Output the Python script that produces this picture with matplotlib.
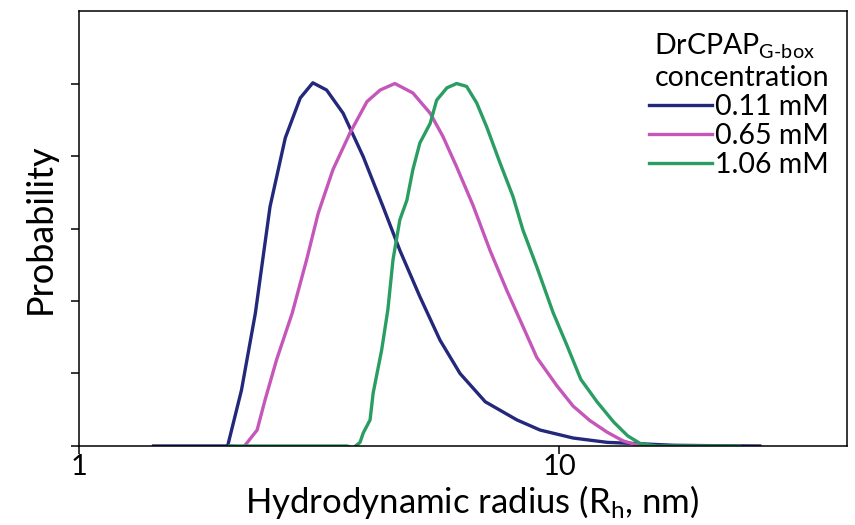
import matplotlib
matplotlib.use("Agg")
import matplotlib.pyplot as plt

plt.rcParams['font.family'] = ['Lato', 'DejaVu Sans']
plt.rcParams['mathtext.fontset'] = 'custom'
plt.rcParams['mathtext.rm'] = 'Lato'
plt.rcParams['mathtext.it'] = 'Lato'

# Size distributions (hydrodynamic radius in nm vs probability, arbitrary units)
r_011 = [1.43, 2.04, 2.18, 2.33, 2.50, 2.69, 2.89, 3.07, 3.28, 3.55, 3.91, 4.30,
         4.66, 5.13, 5.65, 6.22, 7.02, 8.17, 9.13, 10.7, 12.6, 14.8, 17.3, 20.3, 26.2]
p_011 = [0.0, 0.0, 0.77, 1.83, 3.30, 4.25, 4.80, 5.01, 4.91, 4.59, 3.99, 3.30,
         2.70, 2.06, 1.46, 1.00, 0.61, 0.36, 0.22, 0.11, 0.05, 0.03, 0.01, 0.005, 0.0]

r_065 = [2.08, 2.20, 2.35, 2.44, 2.58, 2.78, 2.98, 3.15, 3.38, 3.67, 3.98, 4.24,
         4.55, 4.96, 5.39, 5.73, 6.12, 6.62, 7.18, 7.78, 8.41, 8.99, 9.90, 10.7,
         11.6, 12.6, 13.6, 14.8, 15.5]
p_065 = [0.0, -0.02, 0.22, 0.63, 1.19, 1.83, 2.57, 3.21, 3.81, 4.32, 4.75, 4.91,
         5.00, 4.87, 4.59, 4.27, 3.85, 3.32, 2.70, 2.15, 1.65, 1.22, 0.83, 0.55,
         0.35, 0.19, 0.07, 0.0, 0.0]

r_106 = [2.06, 3.62, 3.72, 3.85, 3.91, 4.04, 4.10, 4.27, 4.40, 4.51, 4.66, 4.82,
         4.96, 5.13, 5.39, 5.56, 5.84, 6.12, 6.42, 6.74, 7.07, 7.54, 8.02, 8.41,
         8.99, 9.72, 10.4, 11.1, 12.0, 13.0, 13.9, 14.8, 16.0, 23.8]
p_106 = [0.0, 0.0, -0.03, 0.05, 0.18, 0.36, 0.73, 1.32, 1.88, 2.57, 3.12, 3.39,
         3.81, 4.18, 4.45, 4.77, 4.94, 5.00, 4.96, 4.73, 4.40, 3.90, 3.44, 2.98,
         2.47, 1.84, 1.38, 0.92, 0.61, 0.33, 0.14, 0.03, 0.0, 0.0]

labels = ['0.11 mM', '0.65 mM', '1.06 mM']
colors = ['#23287a', '#c457b9', '#2a9d63']

fig = plt.figure(figsize=(8.55, 5.25), dpi=100)
ax = fig.add_axes([0.0924, 0.1505, 0.8982, 0.8285])

for r, p, lab, c in zip([r_011, r_065, r_106], [p_011, p_065, p_106], labels, colors):
    ax.plot(r, p, color=c, lw=2.4, label=lab, solid_joinstyle='round')

ax.set_xscale('log')
ax.set_xlim(1, 39.8)
ax.set_ylim(0, 6)
ax.set_xticks([1, 10])
ax.set_xticklabels(['1', '10'])
ax.xaxis.set_minor_locator(matplotlib.ticker.NullLocator())
ax.set_yticks([0, 1, 2, 3, 4, 5])
ax.set_yticklabels([])
ax.tick_params(direction='out', length=6, width=1.1, labelsize=21, pad=0)
for s in ax.spines.values():
    s.set_linewidth(1.1)

ax.set_xlabel('Hydrodynamic radius (R$_\\mathregular{h}$, nm)', fontsize=25, labelpad=2)
ax.xaxis.set_label_coords(0.512, -0.085)
ax.set_ylabel('Probability', fontsize=26, labelpad=10)

leg = ax.legend(title='DrCPAP$_{\\text{G-box}}$\nconcentration', loc='upper right',
                bbox_to_anchor=(0.995, 0.985),
                fontsize=20.5, title_fontsize=20.5, frameon=False, alignment='right',
                handlelength=2.2, handletextpad=0.12, labelspacing=0.1,
                borderaxespad=0.3, borderpad=0.2)

fig.savefig('out.png', dpi=100)
